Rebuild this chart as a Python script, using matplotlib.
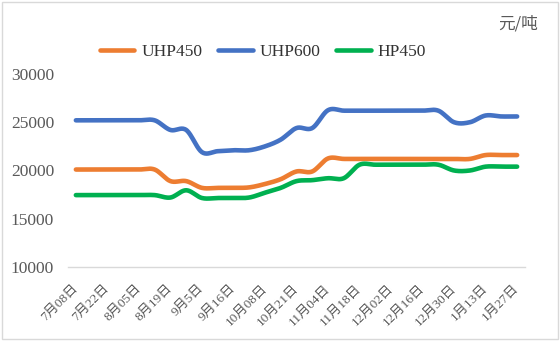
import numpy as np
import matplotlib
matplotlib.use("Agg")
import matplotlib.pyplot as plt
from matplotlib.patches import Rectangle

# Weekly graphite electrode prices (元/吨)
tick_labels = ["7月08日", "7月22日", "8月05日", "8月19日", "9月5日", "9月16日",
               "10月08日", "10月21日", "11月04日", "11月18日", "12月02日",
               "12月16日", "12月30日", "1月13日", "1月27日"]

uhp450 = [20100, 20100, 20100, 20100, 20100, 20100, 18900, 18900, 18200, 18200,
          18200, 18250, 18600, 19100, 19900, 19900, 21250, 21200, 21200, 21200,
          21200, 21200, 21200, 21200, 21200, 21200, 21600, 21600, 21600]
uhp600 = [25200, 25200, 25200, 25200, 25200, 25200, 24200, 24200, 21900, 22000,
          22100, 22100, 22500, 23200, 24400, 24400, 26250, 26200, 26200, 26200,
          26200, 26200, 26200, 26200, 25000, 25000, 25700, 25600, 25600]
hp450 = [17450, 17450, 17450, 17450, 17450, 17450, 17200, 17950, 17150, 17150,
         17150, 17200, 17700, 18200, 18900, 19000, 19200, 19200, 20600, 20600,
         20600, 20600, 20600, 20600, 20000, 20000, 20400, 20400, 20400]

series = [("UHP450", uhp450, "#ED7D31"),
          ("UHP600", uhp600, "#4472C4"),
          ("HP450", hp450, "#00B050")]


def smooth(x, y, steps=20):
    """Catmull-Rom spline through the points (Excel-style smoothed line)."""
    x = np.asarray(x, float)
    y = np.asarray(y, float)
    px = np.concatenate([[x[0]], x, [x[-1]]])
    py = np.concatenate([[y[0]], y, [y[-1]]])
    xs, ys = [], []
    t = np.linspace(0, 1, steps, endpoint=False)
    for i in range(1, len(px) - 2):
        p0x, p1x, p2x, p3x = px[i - 1:i + 3]
        p0y, p1y, p2y, p3y = py[i - 1:i + 3]
        c1x, c1y = p1x + (p2x - p0x) / 6, p1y + (p2y - p0y) / 6
        c2x, c2y = p2x - (p3x - p1x) / 6, p2y - (p3y - p1y) / 6
        b = [(1 - t) ** 3, 3 * (1 - t) ** 2 * t, 3 * (1 - t) * t ** 2, t ** 3]
        xs.append(b[0] * p1x + b[1] * c1x + b[2] * c2x + b[3] * p2x)
        ys.append(b[0] * p1y + b[1] * c1y + b[2] * c2y + b[3] * p2y)
    xs.append([x[-1]])
    ys.append([y[-1]])
    return np.concatenate(xs), np.concatenate(ys)


fig = plt.figure(figsize=(5.6, 3.41), dpi=100)
fig.patch.set_facecolor("white")
fig.patches.append(Rectangle((0.004, 0.006), 0.992, 0.988, transform=fig.transFigure,
                             fill=False, edgecolor="#D9D9D9", linewidth=1.0))

ax = fig.add_axes([68 / 560, 1 - 267 / 341, (525 - 68) / 560, (267 - 74) / 341])

x = np.arange(len(uhp450))
for name, vals, color in series:
    sx, sy = smooth(x, vals)
    ax.plot(sx, sy, color=color, linewidth=3.3, solid_capstyle="round", label=name)

ax.set_xlim(-0.5, len(x) - 0.5)
ax.set_ylim(10000, 30000)
ax.set_yticks([10000, 15000, 20000, 25000, 30000])
ax.set_yticklabels(["10000", "15000", "20000", "25000", "30000"],
                   fontfamily="Liberation Serif", fontsize=12.5, color="#595959")
ax.tick_params(axis="y", length=0, pad=10)

ax.set_xticks(x[::2])
ax.set_xticklabels(tick_labels, rotation=45, rotation_mode="anchor", ha="right",
                   va="center", fontsize=9.5, color="#595959",
                   fontfamily=["Liberation Serif", "Noto Sans CJK SC"])
ax.tick_params(axis="x", length=0, pad=14)

for side in ["top", "right", "left"]:
    ax.spines[side].set_visible(False)
ax.spines["bottom"].set_color("#D9D9D9")
ax.spines["bottom"].set_linewidth(1.0)

leg = fig.legend(loc="center", bbox_to_anchor=(263 / 560, 1 - 52 / 341), ncol=3,
                 frameon=False, handlelength=2.0, handletextpad=0.4, columnspacing=0.9,
                 prop={"family": "Liberation Serif", "size": 12.5})
for t in leg.get_texts():
    t.set_color("#333333")

fig.text(518 / 560, 1 - 24 / 341, "元/吨", ha="center", va="center", fontsize=12,
         color="#595959", fontfamily=["Noto Sans CJK SC", "DejaVu Sans"])

fig.savefig("out.png", dpi=100, facecolor="white")
